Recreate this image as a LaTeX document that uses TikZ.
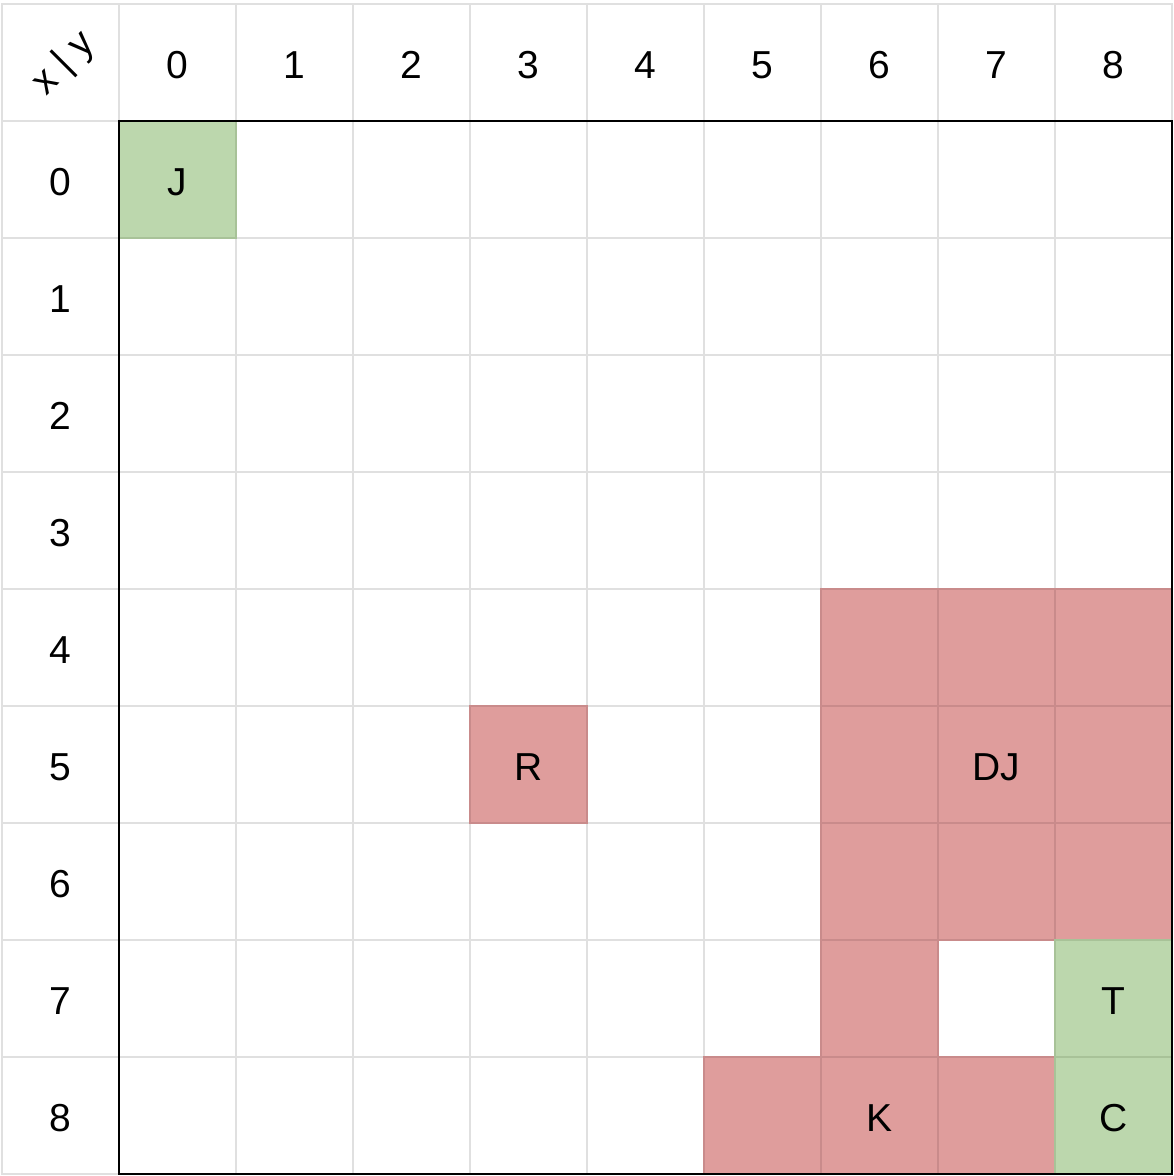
\documentclass[tikz,border=0pt]{standalone}
\usepackage{fontspec}
\setmainfont{Liberation Sans}
\usetikzlibrary{positioning}
\definecolor{gridgray}{RGB}{224,224,224}
\definecolor{cellred}{RGB}{223,157,156}
\definecolor{edgered}{RGB}{201,139,139}
\definecolor{cellgreen}{RGB}{188,215,173}
\definecolor{edgegreen}{RGB}{168,194,152}
\tikzset{
    cell/.style = {rectangle, draw=gridgray, line width=2.6pt, minimum width=117pt, minimum height=117pt, inner sep=0pt, outer sep=0pt, text height=31pt, text depth=0pt, font=\fontsize{39}{44}\selectfont},
    cellr/.style = {cell, fill=cellred, draw=edgered},
    cellg/.style = {cell, fill=cellgreen, draw=edgegreen},
    border/.style = {draw=black, line width=2.6pt}
}

\begin{document}
\begin{tikzpicture}[x=1pt,y=-1pt]
\useasboundingbox (0,0) rectangle (1174,1176);
%
\node[cell] (corner) at (60.5, 62.5) {};
\node[font=\fontsize{39}{44}\selectfont, rotate=45, inner sep=0pt] (xy) at (64, 64) {x | y};
\foreach \c in {0,...,8}
    \node[cell] (hy-\c) at ({177.5+117*\c}, 62.5) {\c};
\foreach \r in {0,...,8}
    \node[cell] (hx-\r) at (60.5, {179.5+117*\r}) {\r};
\foreach \r in {0,...,8}
    \foreach \c in {0,...,8}
        \node[cell] (c-\r-\c) at ({177.5+117*\c}, {179.5+117*\r}) {};
%
\node[cellr] (r-5-3) at (c-5-3) {R};
\foreach \r/\c in {4/6,4/7,4/8,5/6,5/8,6/6,6/7,6/8,7/6,8/5,8/7}
    \node[cellr] (r-\r-\c) at (c-\r-\c) {};
\node[cellr] (r-5-7) at (c-5-7) {DJ};
\node[cellr] (r-8-6) at (c-8-6) {K};
%
\node[cellg] (g-0-0) at (c-0-0) {J};
\node[cellg] (g-7-8) at (c-7-8) {T};
\node[cellg] (g-8-8) at (c-8-8) {C};

\path[border] (c-0-0.north west) rectangle (c-8-8.south east);

\end{tikzpicture}
\end{document}
